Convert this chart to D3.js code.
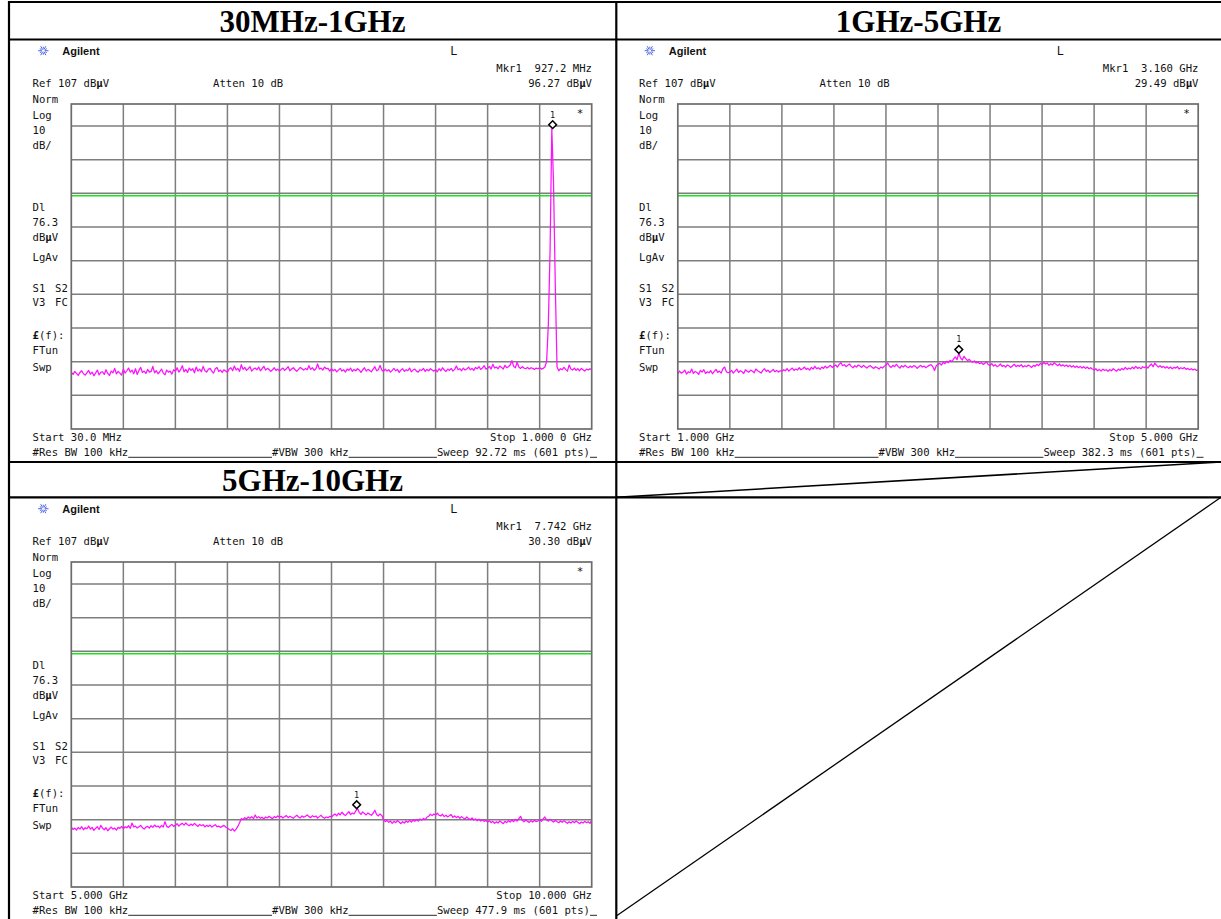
<!DOCTYPE html>
<html>
<head>
<meta charset="utf-8">
<script src="https://cdn.jsdelivr.net/npm/d3@7"></script>
<style>
  body { margin: 0; background: #fff; }
  svg { display: block; }
  text { white-space: pre; }
</style>
</head>
<body>
<svg id="chart" width="1221" height="919"></svg>
<script>
// ---- Sweep settings for the three frequency bands ----
const rangeTitles   = ["30MHz-1GHz", "1GHz-5GHz", "5GHz-10GHz"];
const sweepStartGHz = [0.03, 1.0, 5.0];
const sweepStopGHz  = [1.0, 5.0, 10.0];
const refLevel      = 107;    // dBμV, top of graticule
const dBPerDiv      = 10;
const displayLine   = 76.3;   // dBμV limit line
const markerFreqGHz = [0.9272, 3.160, 7.742];
const markerLevel   = [96.27, 29.49, 30.30];
const markerFreqText  = ["927.2 MHz", "3.160 GHz", "7.742 GHz"];
const markerLevelText = ["96.27", "29.49", "30.30"];
const startLabels = ["Start 30.0 MHz", "Start 1.000 GHz", "Start 5.000 GHz"];
const stopLabels  = ["Stop 1.000 0 GHz", "Stop 5.000 GHz", "Stop 10.000 GHz"];
const sweepLabels = ["Sweep 92.72 ms (601 pts)", "Sweep 382.3 ms (601 pts)", "Sweep 477.9 ms (601 pts)"];

// ---- Trace levels (dBμV), every second sweep point, 301 values per band ----
const trace30M1G = [
  23.9, 23.2, 24.1, 23.5, 22.9, 23.8, 24.3, 23.4, 23.0, 23.7, 24.4, 23.3, 23.9, 22.8, 23.6,
  24.5, 23.1, 23.8, 24.0, 23.2, 24.6, 23.5, 22.9, 24.2, 23.7, 25.0, 23.4, 24.1, 23.6, 23.0,
  24.8, 23.6, 24.3, 25.1, 23.9, 24.5, 23.4, 24.9, 23.2, 24.4, 25.3, 23.8, 24.2, 23.5, 24.7,
  23.9, 24.1, 25.6, 23.7, 24.3, 23.4, 24.0, 24.8, 23.6, 23.1, 24.5, 23.9, 24.2, 23.3, 24.6,
  24.1, 25.2, 23.9, 24.6, 25.8, 24.0, 24.7, 23.8, 25.1, 24.4, 24.9, 23.7, 25.4, 24.2, 24.8,
  24.0, 25.6, 24.3, 23.9, 24.7, 25.0, 24.2, 23.6, 24.9, 25.3, 24.1, 24.5, 23.8, 24.6, 24.2,
  23.9, 24.8, 25.2, 24.3, 25.7, 24.5, 25.0, 24.1, 26.1, 24.7, 25.3, 24.4, 24.9, 25.5, 24.2,
  24.8, 25.1, 24.6, 25.4, 24.3, 24.9, 25.6, 24.5, 25.0, 24.7, 24.1, 24.6, 25.2, 24.4, 24.8,
  24.2, 24.7, 25.1, 24.4, 24.9, 25.5, 24.3, 24.8, 25.2, 24.6, 24.1, 24.7, 25.3, 24.9, 24.5,
  25.0, 24.6, 25.8, 24.7, 25.2, 24.4, 24.9, 26.3, 24.8, 25.1, 24.5, 25.4, 24.9, 25.0, 24.2,
  24.9, 24.3, 24.7, 24.0, 24.5, 25.0, 24.2, 24.6, 23.9, 24.8, 24.4, 25.1, 24.1, 24.7, 24.3,
  24.9, 24.5, 23.8, 24.6, 25.2, 24.2, 24.7, 24.4, 24.0, 24.8, 25.5, 24.3, 24.6, 25.9, 24.5,
  24.1, 24.8, 24.2, 24.6, 23.9, 24.4, 25.0, 24.3, 24.7, 23.8, 24.5, 24.9, 24.1, 24.6, 24.3,
  25.1, 24.0, 24.5, 24.8, 24.2, 23.9, 24.6, 24.4, 25.0, 24.1, 24.7, 24.3, 24.9, 24.5, 24.2,
  24.6, 24.0, 24.9, 24.3, 25.2, 24.5, 24.1, 24.8, 24.4, 25.0, 24.2, 24.7, 25.7, 24.6, 24.9,
  24.3, 25.1, 24.5, 24.8, 25.4, 24.6, 25.0, 24.4, 25.3, 24.9, 25.5, 24.7, 25.1, 25.8, 24.8,
  25.0, 25.6, 24.8, 26.2, 25.1, 25.4, 24.9, 25.7, 25.3, 24.8, 25.9, 25.2, 25.5, 26.0, 27.3,
  25.6, 25.2, 26.8, 25.4, 25.0, 25.5, 25.1, 24.9, 25.3, 24.8, 25.2, 25.0, 24.7, 25.1, 24.9,
  25.2, 24.8, 25.0, 25.4, 27.0, 38.0, 60.0, 96.27, 80.0, 50.0, 25.5, 24.3, 24.9, 24.6, 25.3,
  24.7, 24.2, 26.0, 24.8, 24.5, 25.1, 24.4, 24.9, 24.3, 25.0, 24.6, 24.2, 24.8, 24.5, 24.9, 24.6
];
const trace1G5G = [
  23.4, 24.2, 23.6, 23.9, 24.5, 23.3, 24.0, 23.7, 24.8, 23.5, 24.1, 23.8, 23.2, 24.4, 23.9,
  24.6, 23.5, 24.0, 23.7, 24.3, 23.4, 24.1, 24.7, 23.8, 24.2, 23.6, 24.9, 25.4, 24.0, 23.7,
  23.9, 24.4, 23.6, 24.2, 24.8, 23.8, 24.3, 24.0, 23.5, 24.6, 24.1, 23.9, 24.5, 24.2, 23.7,
  24.8, 24.3, 24.0, 23.6, 24.4, 24.9, 24.1, 24.5, 23.8, 24.2, 24.7, 24.0, 24.4, 23.9, 24.3,
  24.1, 24.6, 24.3, 24.9, 24.2, 24.7, 25.1, 24.4, 24.8, 24.5, 25.2, 24.6, 24.9, 25.4, 24.7,
  25.0, 24.5, 25.3, 24.8, 25.6, 24.9, 25.2, 24.7, 25.4, 25.0, 25.7, 25.1, 25.5, 25.9, 25.3,
  25.6, 26.0, 25.4, 26.2, 26.7, 25.8, 26.1, 25.5, 25.9, 26.3, 25.6, 25.2, 25.8, 25.4, 26.0,
  25.7, 25.3, 25.9, 25.5, 25.1, 25.6, 25.8, 25.3, 25.0, 25.5, 25.2, 24.8, 25.4, 25.1, 25.6,
  26.0, 26.6, 25.7, 25.3, 25.9, 25.5, 26.2, 25.6, 25.1, 25.8, 25.4, 25.9, 25.5, 25.2, 25.7,
  25.3, 25.8, 25.6, 25.0, 25.5, 25.9, 25.4, 25.7, 25.2, 25.6, 25.9, 26.1, 25.5, 24.4, 25.8,
  26.2, 26.5, 26.0, 26.8, 26.4, 27.1, 26.7, 27.4, 27.0, 27.8, 28.4, 27.6, 29.49, 28.1, 27.5,
  28.6, 27.9, 27.3, 27.7, 27.1, 26.8, 27.2, 26.6, 26.9, 26.4, 26.7, 26.2, 26.5, 26.9, 26.1,
  25.9, 26.4, 25.7, 26.1, 25.5, 25.8, 26.3, 25.6, 25.9, 25.4, 26.0, 25.7, 25.3, 25.8, 26.2,
  25.5, 25.9, 25.6, 26.1, 25.4, 25.8, 25.5, 26.0, 25.7, 25.3, 25.9, 25.6, 26.2, 25.8, 26.5,
  26.1, 26.8, 26.3, 26.6, 25.9, 26.4, 26.0, 26.7, 26.2, 25.8, 26.3, 25.7, 26.1, 25.6, 26.0,
  25.5, 25.9, 25.4, 25.8, 25.3, 25.7, 25.2, 25.6, 25.1, 25.5, 25.0, 25.4, 24.9, 25.2, 24.8,
  24.5, 24.9, 24.3, 24.7, 24.2, 24.8, 24.4, 24.6, 24.1, 24.7, 24.3, 24.9, 24.5, 24.2, 24.8,
  24.4, 25.0, 24.6, 25.3, 24.7, 25.1, 24.8, 25.4, 24.9, 25.6, 25.0, 25.3, 24.9, 25.5, 25.2,
  25.6, 25.1, 25.8, 26.3, 25.5, 26.6, 25.9, 25.4, 25.8, 25.3, 25.6, 25.1, 25.5, 25.0, 25.4,
  24.9, 25.3, 25.1, 25.5, 24.8, 25.2, 24.9, 25.3, 24.7, 25.0, 24.6, 24.9, 24.5, 24.8, 24.4, 24.6
];
const trace5G10G = [
  24.8, 24.1, 24.5, 23.9, 24.7, 24.2, 24.9, 24.0, 24.6, 24.3, 25.1, 24.2, 24.7, 23.8, 24.4,
  24.9, 24.1, 25.3, 24.5, 24.0, 24.6, 23.7, 24.3, 24.8, 24.2, 24.5, 23.9, 24.7, 24.4, 25.0,
  24.3, 24.9, 24.6, 25.2, 24.4, 26.0, 24.8, 25.1, 24.5, 24.9, 25.3, 24.6, 24.2, 24.8, 25.0,
  24.5, 25.2, 24.7, 25.4, 24.9, 25.1, 24.6, 25.3, 24.8, 26.4, 25.0, 24.7, 25.2, 25.6, 25.0,
  25.3, 25.8, 25.1, 25.6, 25.9, 25.4, 26.0, 25.5, 25.2, 25.7, 25.3, 25.9, 25.4, 25.0, 25.6,
  25.2, 25.5, 24.9, 25.3, 25.0, 25.4, 24.8, 25.2, 25.5, 24.9, 25.1, 24.7, 25.0, 25.3, 24.8,
  24.5, 24.1, 23.8, 24.3, 23.6, 24.2, 25.0, 26.1, 27.3, 27.0, 27.6, 27.2, 27.8, 27.4, 27.9,
  27.3, 28.4, 27.5, 27.9, 27.4, 27.7, 27.2, 27.8, 27.5, 28.0, 27.6, 27.3, 27.9, 27.6, 28.1,
  27.7, 28.0, 27.5, 27.9, 28.2, 27.6, 28.0, 27.7, 27.4, 27.9, 28.3, 27.8, 27.5, 28.1, 27.7,
  28.0, 28.4, 27.9, 27.6, 28.2, 27.8, 28.1, 27.5, 27.9, 28.3, 27.7, 27.4, 27.8, 27.6, 28.0,
  27.8, 28.3, 28.7, 28.1, 28.9, 28.4, 29.2, 28.6, 28.2, 28.8, 29.4, 28.5, 29.0, 28.7, 29.6,
  30.3, 29.1, 28.6, 29.3, 28.8, 28.4, 29.0, 28.6, 28.3, 28.9, 29.8, 28.5, 28.1, 28.7, 28.2,
  27.0, 26.4, 26.8, 26.2, 26.6, 25.9, 26.5, 26.1, 26.7, 26.3, 25.8, 26.4, 26.0, 26.6, 26.2,
  26.8, 26.3, 26.9, 26.5, 27.0, 26.6, 27.2, 26.8, 27.4, 27.0, 27.7, 28.0, 28.6, 28.2, 28.7,
  28.4, 28.9, 28.3, 28.1, 28.6, 27.9, 28.3, 27.8, 28.2, 28.5, 27.7, 28.1, 27.6, 28.0, 27.4,
  27.9, 27.5, 27.2, 27.8, 27.3, 27.0, 27.5, 26.9, 27.2, 26.7, 27.1, 26.6, 26.9, 26.5, 26.8,
  26.3, 26.7, 26.1, 26.5, 25.9, 26.4, 26.0, 26.6, 26.2, 25.8, 26.5, 26.1, 26.7, 26.3, 26.9,
  26.4, 27.1, 26.6, 27.3, 28.0, 26.8, 26.4, 26.9, 26.5, 26.2, 26.7, 26.3, 26.8, 26.4, 26.6,
  26.9, 26.5, 27.2, 27.8, 26.9, 26.6, 27.1, 26.7, 26.3, 26.8, 26.4, 26.1, 26.6, 26.2, 26.7,
  26.3, 25.9, 26.4, 26.0, 26.5, 26.1, 26.6, 26.2, 25.8, 26.3, 26.0, 26.5, 26.1, 26.4, 25.9, 26.8
];
const traces = [trace30M1G, trace1G5G, trace5G10G];

// ---- Drawing ----
const W = 1221, H = 919;
const svg = d3.select("#chart");
svg.append("rect").attr("width", W).attr("height", H).attr("fill", "#fff");

const MONO = "'DejaVu Sans Mono', 'Liberation Mono', monospace";
const SANS = "'Liberation Sans', Arial, sans-serif";
const INK = "#111";
const GRID = "#7e7e7e";

// graticule geometry inside one analyzer screen
const gx0 = 71.3, gx1 = 591.7, gyRef = 92.3, gyBottom = 429.0, frameTop = 104;

// text helper; segments are [text, bold] pairs
function monoText(g, x, y, segs, anchor) {
  const t = g.append("text")
    .attr("x", x).attr("y", y)
    .attr("font-family", MONO).attr("font-size", "10.6px")
    .attr("fill", INK)
    .attr("text-anchor", anchor || "start");
  (typeof segs === "string" ? [[segs, false]] : segs).forEach(([s, b]) => {
    t.append("tspan").text(s).attr("font-weight", b ? "bold" : "normal");
  });
  return t;
}
const dBuV = [["dB", false], ["\u03bc", true], ["V", false]];

function drawScreen(p, ox, oy) {
  const g = svg.append("g").attr("transform", `translate(${ox},${oy})`);
  const start = sweepStartGHz[p], stop = sweepStopGHz[p];
  const x = d3.scaleLinear().domain([start, stop]).range([gx0, gx1]);
  const y = d3.scaleLinear().domain([refLevel, refLevel - 10 * dBPerDiv]).range([gyRef, gyBottom]);

  // logo
  const logo = g.append("g").attr("transform", "translate(43.3,50.7)")
    .attr("stroke", "#3a56e0").attr("stroke-width", 0.9);
  d3.range(12).forEach(k => {
    const a = k * Math.PI / 6, r0 = k % 2 ? 2 : 1.2, r1 = k % 2 ? 4 : 5.2;
    logo.append("line")
      .attr("x1", r0 * Math.cos(a)).attr("y1", r0 * Math.sin(a))
      .attr("x2", r1 * Math.cos(a)).attr("y2", r1 * Math.sin(a));
  });
  g.append("text").attr("x", 62.3).attr("y", 54.6)
    .attr("font-family", SANS).attr("font-weight", "bold").attr("font-size", "11px")
    .attr("fill", INK).text("Agilent");
  g.append("text").attr("x", 450.5).attr("y", 55)
    .attr("font-family", SANS).attr("font-size", "12px").attr("fill", INK).text("L");

  // header annotations
  monoText(g, 592, 72.2, "Mkr1  " + markerFreqText[p], "end");
  monoText(g, 32.5, 87.3, [["Ref " + refLevel + " ", false]].concat(dBuV));
  monoText(g, 213, 87.3, "Atten 10 dB");
  monoText(g, 592, 87.3, [[markerLevelText[p] + " ", false]].concat(dBuV), "end");

  // left-hand status column
  const side = [
    ["Norm", 102.5], ["Log", 119], ["10", 134], ["dB/", 149],
    ["Dl", 211], [String(displayLine), 226], [dBuV, 241], ["LgAv", 261],
    ["S1", 292], ["V3", 306],
    [[["\u00a3", true], ["(f):", false]], 339], ["FTun", 354], ["Swp", 371]
  ];
  side.forEach(([s, yy]) => monoText(g, 32.5, yy, s));
  monoText(g, 55, 292, "S2");
  monoText(g, 55, 306, "FC");

  // graticule
  const clipId = "scr" + p;
  g.append("clipPath").attr("id", clipId).append("rect")
    .attr("x", gx0).attr("y", frameTop).attr("width", gx1 - gx0).attr("height", gyBottom - frameTop);
  const grid = g.append("g").attr("clip-path", `url(#${clipId})`);
  const xTicks = d3.range(1, 10).map(k => start + k * (stop - start) / 10);
  const yTicks = d3.range(1, 10).map(k => refLevel - k * dBPerDiv);
  grid.selectAll("line.v").data(xTicks).join("line")
    .attr("x1", d => x(d)).attr("x2", d => x(d))
    .attr("y1", frameTop).attr("y2", gyBottom)
    .attr("stroke", GRID).attr("stroke-width", 1.5);
  grid.selectAll("line.h").data(yTicks).join("line")
    .attr("x1", gx0).attr("x2", gx1)
    .attr("y1", d => y(d)).attr("y2", d => y(d))
    .attr("stroke", GRID).attr("stroke-width", 1.5);
  g.append("rect").attr("x", gx0).attr("y", frameTop)
    .attr("width", gx1 - gx0).attr("height", gyBottom - frameTop)
    .attr("fill", "none").attr("stroke", "#6c6c6c").attr("stroke-width", 1.7);

  // display line
  grid.append("line")
    .attr("x1", gx0).attr("x2", gx1)
    .attr("y1", y(displayLine)).attr("y2", y(displayLine))
    .attr("stroke", "#19e619").attr("stroke-width", 1.5);

  // trace
  const tr = traces[p];
  const step = (stop - start) / (tr.length - 1);
  const line = d3.line().x((d, i) => x(start + i * step)).y(d => y(d));
  grid.append("path").attr("d", line(tr))
    .attr("fill", "none").attr("stroke", "#ff10ff").attr("stroke-width", 1.25)
    .attr("stroke-linejoin", "round");

  // marker 1
  const mx = x(markerFreqGHz[p]), my = y(markerLevel[p]) - 3.8;
  g.append("path")
    .attr("d", d3.symbol(d3.symbolSquare, 30)())
    .attr("transform", `translate(${mx},${my}) rotate(45)`)
    .attr("fill", "#fff").attr("stroke", "#000").attr("stroke-width", 1.5);
  g.append("text").attr("x", mx).attr("y", my - 7)
    .attr("font-family", MONO).attr("font-size", "8.5px").attr("text-anchor", "middle")
    .attr("fill", INK).text("1");
  g.append("text").attr("x", 580).attr("y", 117)
    .attr("font-family", MONO).attr("font-size", "11px").attr("text-anchor", "middle")
    .attr("fill", INK).text("*");

  // footer annotations
  monoText(g, 32.5, 440.6, startLabels[p]);
  monoText(g, 592, 440.6, stopLabels[p], "end");
  const rb = monoText(g, 32.5, 455.8, "#Res BW 100 kHz");
  const vb = monoText(g, 272, 455.8, "#VBW 300 kHz");
  const sw = monoText(g, 590, 455.8, sweepLabels[p], "end");
  const rbEnd = 32.5 + rb.node().getComputedTextLength();
  const vbEnd = 272 + vb.node().getComputedTextLength();
  const swStart = 590 - sw.node().getComputedTextLength();
  [[rbEnd, 272], [vbEnd, swStart], [590, 597]].forEach(([a, b]) => {
    g.append("line").attr("x1", a).attr("x2", b).attr("y1", 457.3).attr("y2", 457.3)
      .attr("stroke", INK).attr("stroke-width", 0.9);
  });
}

drawScreen(0, 0, 0);
drawScreen(1, 606.5, 0);
drawScreen(2, 0, 458);

// ---- Table frame and band titles ----
const frame = svg.append("g").attr("stroke", "#000").attr("stroke-width", 2.2).attr("fill", "none");
[[2, 8, W], [39.5, 8, W], [462, 8, W], [497.3, 8, W]].forEach(([yy, a, b]) => {
  frame.append("line").attr("x1", a).attr("x2", b).attr("y1", yy).attr("y2", yy);
});
frame.append("line").attr("x1", 9).attr("x2", 9).attr("y1", 1).attr("y2", H);
frame.append("line").attr("x1", 616.3).attr("x2", 616.3).attr("y1", 1).attr("y2", H);
frame.append("line").attr("x1", 616.3).attr("y1", 497.3).attr("x2", W).attr("y2", 462)
  .attr("stroke-width", 1.6);
frame.append("line").attr("x1", 616.3).attr("y1", 916).attr("x2", W).attr("y2", 497.3)
  .attr("stroke-width", 1.3);

const titleCells = [[312.5, 31.8], [918.5, 31.8], [312.5, 490.8]];
rangeTitles.forEach((t, i) => {
  svg.append("text").attr("x", titleCells[i][0]).attr("y", titleCells[i][1])
    .attr("font-family", "'Liberation Serif', 'Times New Roman', serif")
    .attr("font-weight", "bold").attr("font-size", "31px")
    .attr("text-anchor", "middle").attr("fill", "#000").text(t);
});
</script>
</body>
</html>
